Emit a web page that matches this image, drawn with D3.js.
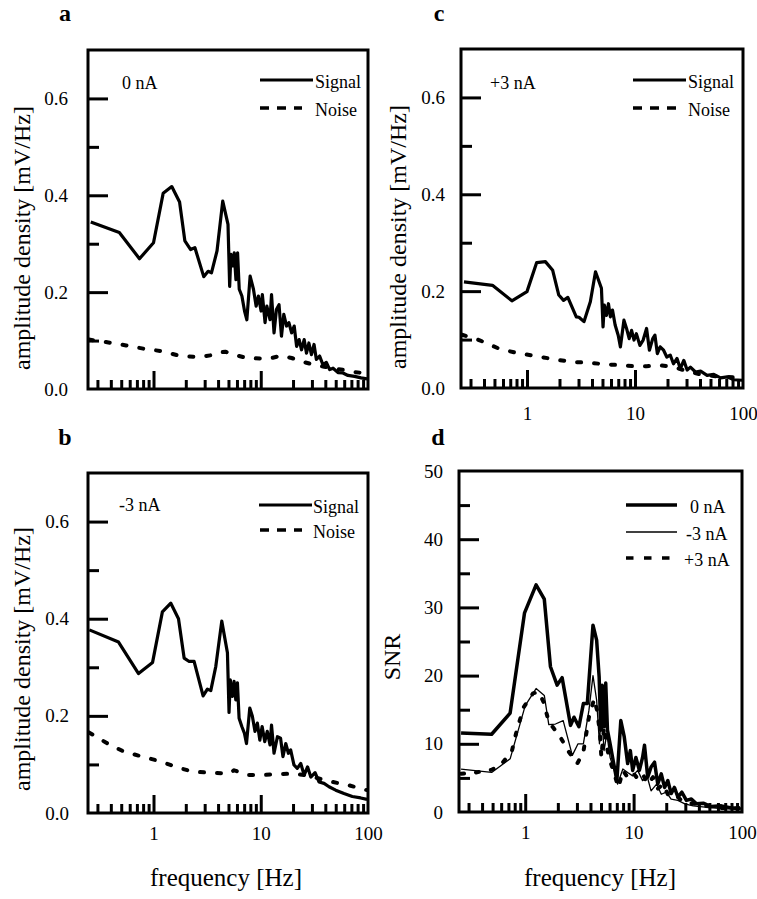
<!DOCTYPE html>
<html>
<head>
<meta charset="utf-8">
<script src="https://cdn.jsdelivr.net/npm/d3@7/dist/d3.min.js"></script>
<style>
  html, body { margin: 0; padding: 0; background: #fff; }
  svg { display: block; }
  text { font-family: "Liberation Serif", "Times New Roman", serif; fill: #000; }
</style>
</head>
<body>
<svg id="chart" width="757" height="899"></svg>
<script>
// ---------------- DATA ----------------
// Panel a (0 nA)
const aSigF = [0.26,0.48,0.74,1.0,1.23,1.48,1.75,1.96,2.22,2.43,2.94,3.23,3.47,3.91,4.42,4.95,5.13,5.27,5.46,5.66,5.87,6.08,6.3,6.67,7.06,7.42,7.96,8.55,9.06,9.51,10.07,10.35,10.97,11.4,12.2,12.6,13.3,14.0,14.8,15.6,16.4,17.4,18.3,19.4,20.5,21.6,22.8,24.0,25.4,26.7,28.1,29.7,31.4,33.0,35.4,38.0,40.9,43.9,47.2,52.5,58.4,65.0,74.9,86.2,98];
const aSigV = [0.345,0.323,0.269,0.302,0.404,0.418,0.386,0.306,0.288,0.292,0.232,0.243,0.240,0.285,0.388,0.340,0.212,0.278,0.254,0.281,0.226,0.281,0.206,0.192,0.161,0.143,0.233,0.206,0.171,0.192,0.161,0.195,0.137,0.171,0.143,0.195,0.116,0.164,0.174,0.109,0.154,0.130,0.137,0.116,0.130,0.088,0.102,0.081,0.102,0.074,0.095,0.071,0.092,0.061,0.068,0.050,0.055,0.040,0.043,0.034,0.033,0.028,0.026,0.023,0.021];
const aNoiF = [0.25,0.36,0.555,0.82,1.21,1.79,2.65,3.78,4.36,4.67,5.58,7.42,9.84,12.6,15.6,19.4,22.0,25.8,29.0,34.2,39.0,45.5,52.0,60.5,75.0,98];
const aNoiV = [0.102,0.097,0.090,0.083,0.078,0.068,0.066,0.071,0.076,0.077,0.071,0.064,0.063,0.064,0.069,0.064,0.060,0.055,0.052,0.048,0.046,0.043,0.041,0.039,0.035,0.032];

// Panel b (-3 nA)
const bSigF = [0.252,0.472,0.725,0.98,1.21,1.45,1.71,1.93,2.15,2.39,2.9,3.18,3.42,3.81,4.33,4.89,5.06,5.2,5.44,5.64,5.85,6.06,6.28,6.66,7.05,7.36,7.9,8.35,8.84,9.3,9.8,10.3,10.9,11.5,12.2,12.6,13.3,14.3,15.3,16.1,17.1,18.1,19.0,20.4,21.9,23.6,25.4,27.3,29.3,32.1,34.9,38.9,43.3,50.0,59.7,71.4,85.5,98];
const bSigV = [0.377,0.352,0.287,0.310,0.414,0.432,0.400,0.319,0.312,0.312,0.241,0.255,0.252,0.302,0.395,0.330,0.207,0.274,0.240,0.271,0.233,0.268,0.195,0.178,0.164,0.143,0.216,0.199,0.168,0.185,0.150,0.178,0.147,0.168,0.140,0.181,0.123,0.157,0.154,0.116,0.143,0.123,0.130,0.099,0.092,0.102,0.078,0.095,0.074,0.083,0.064,0.061,0.054,0.047,0.040,0.034,0.031,0.028];
const bNoiF = [0.25,0.36,0.533,0.79,1.17,1.61,2.31,3.42,5.06,5.64,7.52,10.3,14.3,19.7,26.3,34.9,46.5,66.4,98];
const bNoiV = [0.166,0.145,0.126,0.116,0.106,0.095,0.085,0.083,0.081,0.088,0.078,0.078,0.080,0.081,0.078,0.071,0.064,0.057,0.047];

// Panel c (+3 nA)
const cSigF = [0.261,0.479,0.725,1.0,1.23,1.48,1.73,1.97,2.18,2.39,2.86,3.03,3.37,3.86,4.31,4.89,5.06,5.2,5.44,5.68,5.92,6.19,6.55,6.99,7.33,7.9,8.35,8.84,9.3,9.8,10.3,11.1,11.9,12.8,13.6,14.6,15.3,16.1,17.1,18.4,19.7,21.2,22.7,24.5,26.3,28.3,30.4,32.6,36.3,40.5,46.5,53.7,62.0,71.4,82.3,98];
const cSigV = [0.219,0.212,0.180,0.199,0.259,0.261,0.243,0.192,0.181,0.187,0.147,0.146,0.137,0.178,0.240,0.206,0.126,0.171,0.150,0.174,0.147,0.161,0.130,0.109,0.085,0.140,0.123,0.102,0.119,0.099,0.112,0.088,0.099,0.123,0.078,0.102,0.109,0.071,0.085,0.078,0.064,0.068,0.050,0.061,0.040,0.057,0.037,0.043,0.033,0.035,0.026,0.028,0.021,0.023,0.017,0.016];
const cNoiF = [0.25,0.36,0.553,0.82,1.21,1.8,2.57,3.8,5.25,7.52,9.64,12.8,17.1,22.7,30.4,40.5,57.7,98];
const cNoiV = [0.110,0.099,0.081,0.072,0.066,0.059,0.054,0.052,0.049,0.047,0.045,0.045,0.047,0.043,0.035,0.028,0.024,0.021];

// Panel d (SNR)
const dZeroF = [0.256,0.49,0.726,0.986,1.26,1.50,1.71,1.97,2.19,2.62,2.82,3.13,3.44,3.74,4.22,4.56,4.81,4.97,5.12,5.34,5.53,5.74,6.07,6.52,7.01,7.62,8.2,8.81,9.33,9.8,10.5,11.3,12.1,12.6,13.5,14.5,15.6,16.7,18.0,19.3,20.7,22.2,23.8,25.6,27.9,30.7,34.1,38.0,43.9,52.0,64.5,79.8,96];
const dZeroV = [11.6,11.4,14.5,29.2,33.3,31.2,21.3,18.6,19.7,12.7,13.9,12.5,15.9,15.9,27.4,25.2,19.8,12.0,18.6,12.5,18.9,12.0,10.0,7.3,4.6,13.4,11.0,7.1,9.0,6.1,8.0,6.1,8.0,9.8,5.1,6.6,7.3,4.1,5.6,3.6,4.6,2.7,3.6,2.2,2.9,1.7,1.9,1.2,1.3,0.8,0.9,0.6,0.6];
const dMinusF = [0.256,0.49,0.726,1.0,1.26,1.50,1.65,1.90,2.24,2.72,3.07,3.44,3.87,4.22,4.56,4.84,5.04,5.34,5.66,6.07,6.63,7.12,7.96,8.81,9.8,10.9,12.1,13.4,14.5,16.3,18.0,20.0,22.2,25.6,29.7,35.4,45.6,64.5,96];
const dMinusV = [6.3,5.8,7.8,15.6,18.1,17.1,12.8,12.9,13.4,8.3,10.0,10.0,14.9,20.0,16.4,10.0,14.9,9.0,11.5,8.0,6.1,4.1,6.3,5.8,5.3,6.1,4.6,5.1,3.1,4.1,2.6,2.9,1.9,1.7,1.2,0.9,0.7,0.5,0.4];
const dPlusF = [0.256,0.35,0.49,0.585,0.75,0.837,0.97,1.18,1.33,1.48,1.65,2.07,2.53,3.02,3.44,3.87,4.33,4.6,4.9,5.04,5.34,5.66,6.07,6.63,7.25,7.96,8.81,9.8,10.9,12.1,13.5,15.1,16.7,18.7,20.7,23.8,27.5,34.1,45.6,64.5,96];
const dPlusV = [5.6,5.8,6.2,6.8,8.8,12.0,15.4,17.4,17.6,16.1,13.2,11.2,8.8,7.1,8.8,13.9,16.6,14.9,11.5,8.0,12.5,9.5,7.5,5.6,3.6,6.1,5.1,5.8,4.9,5.6,4.1,5.1,3.4,4.1,2.6,2.7,1.7,1.3,0.9,0.6,0.5];

// Ticks
const freqDomain = [0.245, 100];
const xMajorTicks = [1, 10, 100];
const xMinorTicks = [0.3,0.4,0.5,0.6,0.7,0.8,0.9,2,3,4,5,6,7,8,9,20,30,40,50,60,70,80,90];
const ampMajorTicks = [0, 0.2, 0.4, 0.6];
const ampMinorTicks = [0.1, 0.3, 0.5];
const snrMajorTicks = [0, 10, 20, 30, 40, 50];
const snrMinorTicks = [5, 15, 25, 35, 45];

// ---------------- DRAW ----------------
const svg = d3.select("#chart");
const zip = (F, V) => F.map((f, i) => [f, V[i]]);

const noiseStyle = { w: 4, dash: "4,13", cap: "round" };

const panels = [
  { letter: "a", L: 88, R: 368, T: 50, B: 389, yMax: 0.7, snr: false, xLabels: false, yPad: 20,
    yTitle: "amplitude density [mV/Hz]", yTitleX: 22, yTitleY: 238, letterX: 65, letterY: 21,
    note: "0 nA", noteX: 122, noteY: 83,
    series: [ {d: zip(aSigF, aSigV), w: 3.2, dash: null}, Object.assign({d: zip(aNoiF, aNoiV)}, noiseStyle) ],
    legend: [ {label: "Signal", x1: 260, x2: 313, y: 80, w: 3.2, dash: null, tx: 315},
              {label: "Noise", x1: 260, x2: 302, y: 108, w: 3.5, dash: "9,8", tx: 315} ] },
  { letter: "c", L: 461, R: 743, T: 49, B: 388, yMax: 0.7, snr: false, xLabels: true, xPad: 19, yPad: 16,
    yTitle: "amplitude density [mV/Hz]", yTitleX: 398, yTitleY: 237, letterX: 439, letterY: 21,
    note: "+3 nA", noteX: 490, noteY: 83,
    series: [ {d: zip(cSigF, cSigV), w: 3.2, dash: null}, Object.assign({d: zip(cNoiF, cNoiV)}, noiseStyle) ],
    legend: [ {label: "Signal", x1: 633, x2: 686, y: 80, w: 3.2, dash: null, tx: 688},
              {label: "Noise", x1: 633, x2: 676, y: 108, w: 3.5, dash: "9,8", tx: 688} ] },
  { letter: "b", L: 88, R: 368, T: 473, B: 813, yMax: 0.7, snr: false, xLabels: true, xPad: 14, yPad: 19,
    yTitle: "amplitude density [mV/Hz]", yTitleX: 22, yTitleY: 659, letterX: 65, letterY: 445,
    note: "-3 nA", noteX: 119, noteY: 505,
    series: [ {d: zip(bSigF, bSigV), w: 3.2, dash: null}, Object.assign({d: zip(bNoiF, bNoiV)}, noiseStyle) ],
    legend: [ {label: "Signal", x1: 259, x2: 312, y: 505, w: 3.2, dash: null, tx: 313},
              {label: "Noise", x1: 260, x2: 302, y: 530, w: 3.5, dash: "9,8", tx: 313} ],
    xTitle: "frequency [Hz]", xTitleX: 226, xTitleY: 877 },
  { letter: "d", L: 459, R: 742, T: 471, B: 812, yMax: 50, snr: true, xLabels: true, xPad: 14, yPad: 16,
    yTitle: "SNR", yTitleX: 392, yTitleY: 657, letterX: 438, letterY: 445,
    note: null,
    series: [ {d: zip(dZeroF, dZeroV), w: 3.5, dash: null}, {d: zip(dMinusF, dMinusV), w: 1.3, dash: null},
              {d: zip(dPlusF, dPlusV), w: 4, dash: "3,12", cap: "round"} ],
    legend: [ {label: "0 nA", x1: 626, x2: 677, y: 505, w: 3.5, dash: null, tx: 690},
              {label: "-3 nA", x1: 626, x2: 677, y: 532, w: 1.3, dash: null, tx: 686},
              {label: "+3 nA", x1: 626, x2: 677, y: 558, w: 3.5, dash: "7.5,10.5", tx: 684} ],
    xTitle: "frequency [Hz]", xTitleX: 600, xTitleY: 877 }
];

panels.forEach(p => {
  const x = d3.scaleLog().domain(freqDomain).range([p.L, p.R]);
  const y = d3.scaleLinear().domain([0, p.yMax]).range([p.B, p.T]);
  const g = svg.append("g");

  // clip
  const clipId = "clip-" + p.letter;
  svg.append("clipPath").attr("id", clipId).append("rect")
    .attr("x", p.L).attr("y", p.T).attr("width", p.R - p.L).attr("height", p.B - p.T);

  // data lines
  const line = d3.line().x(d => x(d[0])).y(d => y(d[1]));
  const lg = g.append("g").attr("clip-path", `url(#${clipId})`);
  p.series.forEach(s => {
    lg.append("path").datum(s.d).attr("d", line)
      .attr("fill", "none").attr("stroke", "#000")
      .attr("stroke-width", s.w).attr("stroke-linejoin", "round")
      .attr("stroke-linecap", s.cap || "butt")
      .attr("stroke-dasharray", s.dash);
  });

  // x ticks (inward)
  const xMinor = g.append("g").attr("transform", `translate(0,${p.B})`)
    .call(d3.axisBottom(x).tickValues(xMinorTicks).tickSize(-9).tickFormat(""));
  const xMajor = g.append("g").attr("transform", `translate(0,${p.B})`)
    .call(d3.axisBottom(x).tickValues(xMajorTicks).tickSize(-18).tickPadding(p.xPad || 14)
      .tickFormat(p.xLabels ? d3.format("d") : ""));
  // y ticks (inward)
  const yMinorT = p.snr ? snrMinorTicks : ampMinorTicks;
  const yMajorT = p.snr ? snrMajorTicks : ampMajorTicks;
  const yMinor = g.append("g").attr("transform", `translate(${p.L},0)`)
    .call(d3.axisLeft(y).tickValues(yMinorT).tickSize(-11).tickFormat(""));
  const yMajor = g.append("g").attr("transform", `translate(${p.L},0)`)
    .call(d3.axisLeft(y).tickValues(yMajorT).tickSize(-20).tickPadding(p.yPad)
      .tickFormat(p.snr ? d3.format("d") : d3.format(".1f")));

  [xMinor, xMajor, yMinor, yMajor].forEach(a => {
    a.select(".domain").remove();
    a.selectAll(".tick line").attr("stroke", "#000").attr("stroke-width", 3);
    a.selectAll(".tick text").attr("font-size", 19)
      .attr("font-family", '"Liberation Serif", "Times New Roman", serif').attr("fill", "#000");
  });
  yMajor.selectAll(".tick").filter(d => d === 0 || d === p.yMax).select("line").remove();
  xMajor.selectAll(".tick").filter(d => d === 100).select("line").remove();

  // frame
  g.append("rect").attr("x", p.L).attr("y", p.T).attr("width", p.R - p.L).attr("height", p.B - p.T)
    .attr("fill", "none").attr("stroke", "#000").attr("stroke-width", 3);

  // panel letter
  svg.append("text").attr("x", p.letterX).attr("y", p.letterY).attr("text-anchor", "middle")
    .attr("font-size", 24).attr("font-weight", "bold").text(p.letter);

  // y title
  svg.append("text").attr("transform", `translate(${p.yTitleX},${p.yTitleY}) rotate(-90)`)
    .attr("text-anchor", "middle").attr("dominant-baseline", "central")
    .attr("font-size", 24).text(p.yTitle);

  // x title
  if (p.xTitle) {
    svg.append("text").attr("x", p.xTitleX).attr("y", p.xTitleY).attr("text-anchor", "middle")
      .attr("dominant-baseline", "central").attr("font-size", 25).text(p.xTitle);
  }

  // note
  if (p.note) {
    svg.append("text").attr("x", p.noteX).attr("y", p.noteY).attr("dominant-baseline", "central")
      .attr("font-size", 18).text(p.note);
  }

  // legend
  p.legend.forEach(l => {
    svg.append("line").attr("x1", l.x1).attr("x2", l.x2).attr("y1", l.y).attr("y2", l.y)
      .attr("stroke", "#000").attr("stroke-width", l.w).attr("stroke-dasharray", l.dash);
    svg.append("text").attr("x", l.tx).attr("y", l.y + 2).attr("dominant-baseline", "central")
      .attr("font-size", 18).text(l.label);
  });
});
</script>
</body>
</html>
